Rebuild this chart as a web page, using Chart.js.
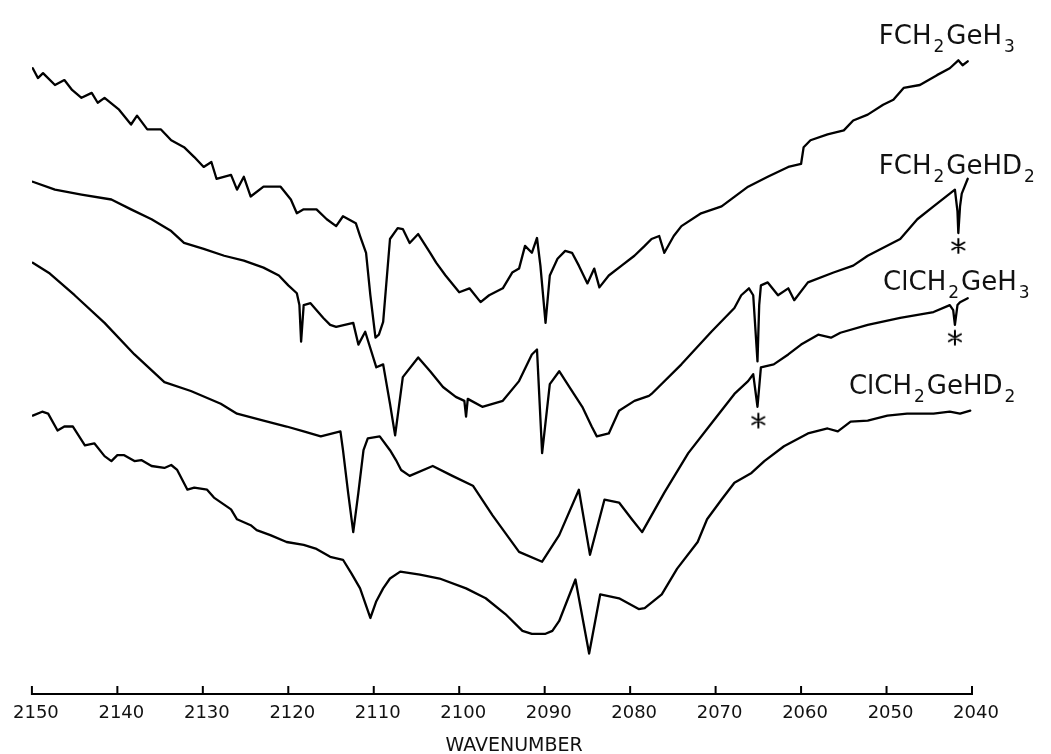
<!DOCTYPE html>
<html><head><meta charset="utf-8">
<script src="https://cdn.jsdelivr.net/npm/chart.js@4"></script>
<style>html,body{margin:0;padding:0;background:#fff}#wrap{width:1051px;height:754px;position:relative}</style>
</head><body><div id="wrap"><canvas id="c"></canvas></div>
<script>
// Wavenumber (cm-1) and transmittance (arbitrary, offset traces)
const fch2geh3Wn = [2149.9,2149.3,2148.7,2147.3,2146.2,2145.3,2144.2,2143.0,2142.3,2141.5,2139.8,2138.4,2137.7,2136.5,2134.9,2133.7,2132.2,2131.0,2129.9,2129.0,2128.4,2126.7,2126.0,2125.2,2124.4,2122.9,2120.9,2119.7,2119.0,2118.2,2116.7,2115.5,2114.4,2113.6,2112.1,2111.6,2110.9,2110.4,2109.8,2109.4,2108.9,2108.1,2107.2,2106.6,2105.8,2104.8,2103.4,2102.7,2101.6,2100.0,2098.8,2097.5,2096.5,2094.9,2093.8,2093.0,2092.3,2091.5,2090.9,2090.5,2089.9,2089.4,2088.5,2087.6,2086.8,2086.0,2085.0,2084.2,2083.6,2082.5,2081.0,2079.5,2078.3,2077.5,2076.6,2076.0,2074.9,2074.0,2071.7,2069.3,2066.2,2063.9,2061.5,2060.0,2059.7,2058.9,2056.9,2055.0,2053.9,2052.2,2050.4,2049.2,2048.0,2046.1,2044.1,2042.6,2041.6,2041.1,2040.5];
const fch2geh3T = [636,626,631,619,624,614,606,611,601,606,594,579,588,574,574,563,556,546,536,541,524,528,513,526,506,516,516,503,489,493,493,483,476,486,479,466,449,406,363,366,379,463,474,473,459,468,449,439,426,409,413,399,406,413,429,433,456,449,464,436,378,426,443,451,449,436,418,433,414,426,436,446,456,463,466,449,466,476,489,496,516,526,536,539,556,563,569,573,583,589,599,604,616,619,629,636,644,639,643];

const fch2gehd2Wn = [2149.9,2147.3,2144.2,2140.7,2138.4,2136.0,2133.7,2132.2,2129.9,2127.5,2125.2,2122.9,2121.1,2120.0,2119.0,2118.7,2118.5,2118.2,2117.4,2115.9,2115.1,2114.4,2112.4,2111.8,2111.0,2109.7,2108.9,2108.1,2107.5,2106.6,2104.8,2103.4,2101.9,2100.4,2099.4,2099.2,2099.0,2097.3,2094.9,2093.0,2091.5,2090.9,2090.3,2089.4,2088.3,2087.1,2085.6,2084.5,2083.9,2082.5,2081.3,2079.5,2077.8,2077.5,2074.0,2070.5,2067.8,2067.0,2066.1,2065.6,2065.1,2064.9,2064.7,2063.9,2062.7,2061.5,2060.8,2059.2,2056.2,2053.9,2052.2,2048.4,2046.4,2044.5,2042.6,2042.0,2041.7,2041.6,2041.4,2041.2,2040.5];
const fch2gehd2T = [521,513,508,503,493,483,471,459,453,446,441,434,426,416,408,396,359,396,398,383,376,374,378,356,369,333,336,296,264,323,343,329,313,303,299,283,301,293,299,319,346,351,246,316,329,313,293,273,263,266,289,299,304,306,336,369,393,406,413,406,339,396,416,419,406,413,401,419,429,436,446,463,483,496,509,513,491,469,496,509,524];

const clch2geh3Wn = [2149.9,2147.9,2145.0,2141.5,2138.0,2134.5,2131.4,2127.9,2126.0,2122.9,2120.2,2118.2,2116.2,2113.9,2113.6,2113.0,2112.4,2111.8,2111.2,2110.7,2109.3,2108.1,2107.4,2106.8,2105.8,2103.1,2100.8,2098.4,2096.1,2093.0,2090.3,2088.3,2086.0,2084.7,2083.0,2081.3,2079.8,2078.6,2076.0,2073.2,2070.5,2067.8,2066.2,2065.6,2065.1,2064.7,2063.2,2061.5,2060.0,2058.0,2056.5,2055.4,2052.2,2048.4,2044.5,2042.6,2042.2,2042.0,2041.7,2041.4,2040.5];
const clch2geh3T = [439,428,406,378,346,318,309,296,286,279,273,268,263,268,249,206,166,206,249,261,263,249,239,229,223,233,223,213,183,146,136,163,209,143,199,196,179,166,206,246,276,306,319,326,293,333,336,346,356,366,363,368,376,383,389,396,391,376,396,399,403];

const clch2gehd2Wn = [2149.9,2148.8,2148.1,2147.0,2146.2,2145.2,2143.8,2142.7,2141.5,2140.7,2140.0,2139.2,2138.0,2137.2,2136.0,2134.5,2133.7,2133.0,2131.8,2131.0,2129.5,2128.7,2126.7,2126.0,2124.4,2123.7,2122.1,2120.2,2118.2,2116.7,2115.1,2113.6,2112.6,2111.6,2110.4,2109.7,2108.9,2108.1,2106.9,2104.6,2102.3,2099.2,2096.9,2094.6,2092.6,2091.5,2089.9,2089.1,2088.3,2086.4,2084.8,2083.5,2081.3,2079.0,2078.3,2076.3,2074.5,2072.1,2071.0,2069.3,2067.8,2065.8,2064.3,2062.0,2059.2,2056.9,2055.7,2054.2,2052.2,2049.9,2047.6,2044.5,2042.6,2041.4,2040.2];
const clch2gehd2T = [284,288,286,269,273,273,254,256,243,238,244,244,238,239,233,231,234,229,209,211,209,201,189,179,173,168,163,156,153,149,141,138,124,109,79,96,109,119,126,123,119,109,99,83,66,63,63,66,76,118,43,103,99,88,89,103,129,156,179,199,216,226,238,253,266,271,268,278,279,284,286,286,288,286,289];

// impurity bands marked with an asterisk
const asteriskWn = [2041.6, 2042.0, 2065.0];
const asteriskT = [456, 363, 279];

const tickValues = [2150,2140,2130,2120,2110,2100,2090,2080,2070,2060,2050,2040];

// trace names (text parts, subscripts flagged) and their anchor in data space
const traceLabels = [
  {wn: 2050.9, t: 661, parts: [['FCH',0],['2',1],['GeH',0],['3',1]]},
  {wn: 2050.9, t: 529, parts: [['FCH',0],['2',1],['GeHD',0],['2',1]]},
  {wn: 2050.4, t: 411, parts: [['ClCH',0],['2',1],['GeH',0],['3',1]]},
  {wn: 2054.4, t: 306, parts: [['ClCH',0],['2',1],['GeHD',0],['2',1]]}
];

function pts(wn, t){ return wn.map((w,i)=>({x:w, y:t[i]})); }

const star = document.createElement('canvas');
star.width = 18; star.height = 18;
(function(){
  const g = star.getContext('2d');
  g.strokeStyle = '#000'; g.lineWidth = 2; g.lineCap = 'round';
  g.beginPath();
  for (let k=0;k<3;k++){
    const a = Math.PI/2 + k*Math.PI/3;
    g.moveTo(9+7*Math.cos(a), 9+7*Math.sin(a));
    g.lineTo(9-7*Math.cos(a), 9-7*Math.sin(a));
  }
  g.stroke();
})();

const axisTicks = {
  id: 'axisTicks',
  afterDraw(chart){
    const {ctx, chartArea, scales:{x}} = chart;
    ctx.save();
    ctx.strokeStyle = '#000'; ctx.lineWidth = 2;
    ctx.beginPath();
    ctx.moveTo(x.getPixelForValue(2150)-1, chartArea.bottom);
    ctx.lineTo(x.getPixelForValue(2040)+1, chartArea.bottom);
    tickValues.forEach(v=>{
      const px = x.getPixelForValue(v);
      ctx.moveTo(px, chartArea.bottom);
      ctx.lineTo(px, chartArea.bottom - 8);
    });
    ctx.stroke();
    ctx.restore();
  }
};

const nameLabels = {
  id: 'nameLabels',
  afterDraw(chart){
    const {ctx, scales:{x, y}} = chart;
    ctx.save();
    ctx.fillStyle = '#111';
    ctx.textBaseline = 'alphabetic';
    ctx.textAlign = 'left';
    traceLabels.forEach(l=>{
      let px = x.getPixelForValue(l.wn);
      const by = y.getPixelForValue(l.t);
      l.parts.forEach(([txt, sub])=>{
        ctx.font = sub ? '17px "DejaVu Sans"' : '26px "DejaVu Sans"';
        ctx.fillText(txt, px, sub ? by + 8 : by);
        px += ctx.measureText(txt).width + 2;
      });
    });
    ctx.restore();
  }
};

const lineStyle = {borderColor:'#000', borderWidth:2.3, pointRadius:0, tension:0, fill:false, borderJoinStyle:'round', borderCapStyle:'round'};

new Chart(document.getElementById('c'), {
  type: 'line',
  data: {
    datasets: [
      Object.assign({label:'FCH2GeH3', data: pts(fch2geh3Wn, fch2geh3T)}, lineStyle),
      Object.assign({label:'FCH2GeHD2', data: pts(fch2gehd2Wn, fch2gehd2T)}, lineStyle),
      Object.assign({label:'ClCH2GeH3', data: pts(clch2geh3Wn, clch2geh3T)}, lineStyle),
      Object.assign({label:'ClCH2GeHD2', data: pts(clch2gehd2Wn, clch2gehd2T)}, lineStyle),
      {type:'scatter', label:'impurity', data: pts(asteriskWn, asteriskT), pointStyle: star, showLine:false, pointRadius:8}
    ]
  },
  options: {
    responsive: true, maintainAspectRatio: false, animation: false,
    layout: {padding: {left: 27, right: 79, top: 0, bottom: 0}},
    plugins: {legend: {display:false}, tooltip: {enabled:false}},
    scales: {
      x: {
        type: 'linear', reverse: true, min: 2040, max: 2150,
        grid: {display:false, drawTicks:false},
        border: {display:false},
        ticks: {stepSize: 10, padding: 9, labelOffset: 4, color:'#111', font:{family:'DejaVu Sans', size:18}, maxRotation:0, autoSkip:false,
                callback: v => String(v)},
        title: {display:true, text:'    WAVENUMBER', color:'#111', font:{family:'DejaVu Sans', size:19, lineHeight:0.8}, padding:{top:0,bottom:0}},
        afterFit(s){ s.height = 60; }
      },
      y: {type:'linear', min: 2, max: 696, display: false}
    }
  },
  plugins: [axisTicks, nameLabels]
});
</script>
</body></html>
